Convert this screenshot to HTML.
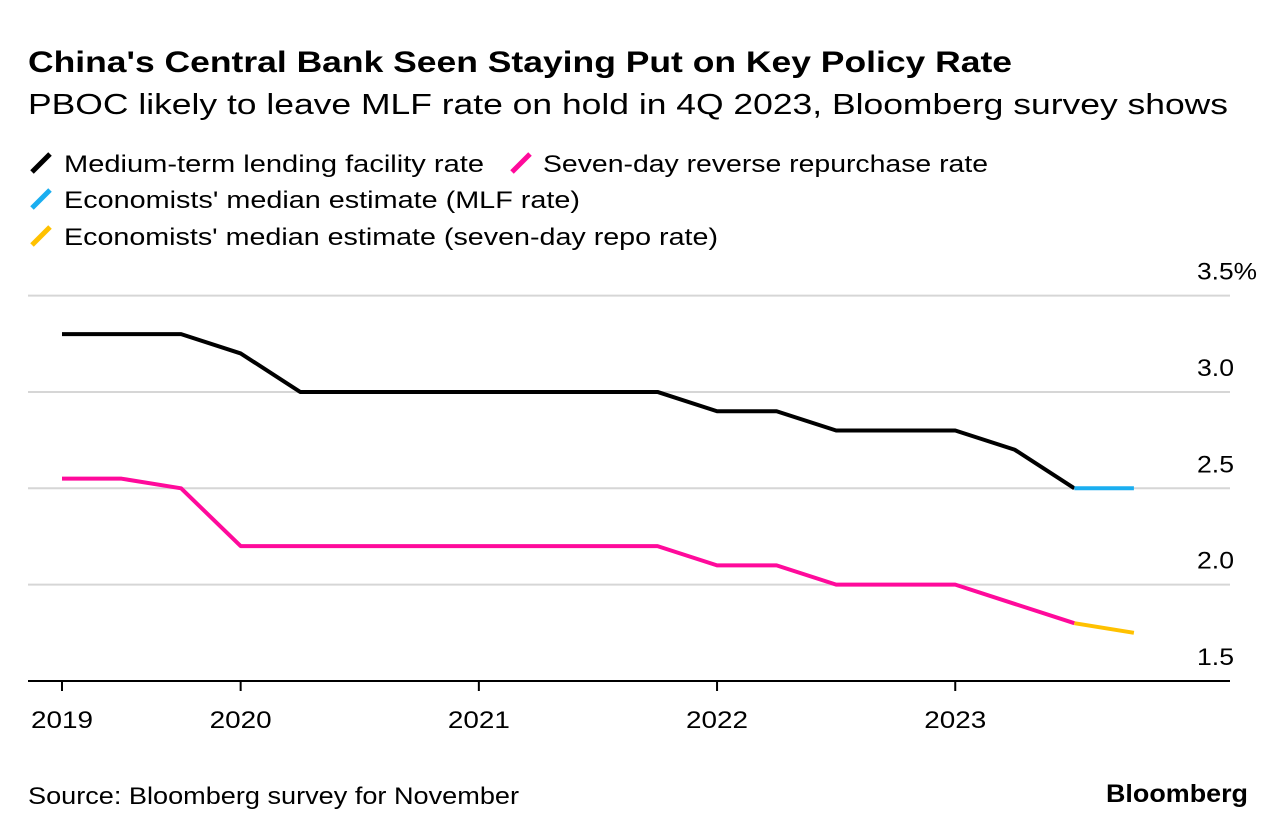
<!DOCTYPE html>
<html><head><meta charset="utf-8"><style>
body{margin:0;background:#fff;width:1286px;height:836px;overflow:hidden;font-family:"Liberation Sans",sans-serif;color:#000}
</style></head><body>
<svg width="1286" height="836" style="position:absolute;left:0;top:0">
<g font-family="Liberation Sans, sans-serif">
<text x="28" y="72" font-size="30" font-weight="bold" textLength="984" lengthAdjust="spacingAndGlyphs">China's Central Bank Seen Staying Put on Key Policy Rate</text>
<text x="28" y="114" font-size="29" textLength="1200" lengthAdjust="spacingAndGlyphs">PBOC likely to leave MLF rate on hold in 4Q 2023, Bloomberg survey shows</text>
<g font-size="24">
<line x1="32" x2="50" y1="172" y2="154" stroke="#000" stroke-width="5"/><text x="64" y="172" textLength="420" lengthAdjust="spacingAndGlyphs">Medium-term lending facility rate</text>
<line x1="512" x2="530" y1="172" y2="154" stroke="#ff0a9b" stroke-width="5"/><text x="543" y="172" textLength="445" lengthAdjust="spacingAndGlyphs">Seven-day reverse repurchase rate</text>
<line x1="32" x2="50" y1="208" y2="190" stroke="#1aaef0" stroke-width="5"/><text x="64" y="208" textLength="516" lengthAdjust="spacingAndGlyphs">Economists' median estimate (MLF rate)</text>
<line x1="32" x2="50" y1="245" y2="227" stroke="#ffc100" stroke-width="5"/><text x="64" y="245" textLength="654" lengthAdjust="spacingAndGlyphs">Economists' median estimate (seven-day repo rate)</text>
</g>
<text x="28" y="804" font-size="24" textLength="491" lengthAdjust="spacingAndGlyphs">Source: Bloomberg survey for November</text>
<text x="1106" y="802" font-size="25" font-weight="bold" textLength="142" lengthAdjust="spacingAndGlyphs">Bloomberg</text>
</g></svg>
<svg id="chart" width="1286" height="836" style="position:absolute;left:0;top:0"></svg>
<script>
const quarters=["2019Q2","2019Q3","2019Q4","2020Q1","2020Q2","2020Q3","2020Q4","2021Q1","2021Q2","2021Q3","2021Q4","2022Q1","2022Q2","2022Q3","2022Q4","2023Q1","2023Q2","2023Q3","2023Q4"];
const mlf=[3.3,3.3,3.3,3.2,3.0,3.0,3.0,3.0,3.0,3.0,3.0,2.9,2.9,2.8,2.8,2.8,2.7,2.5];
const repo=[2.55,2.55,2.5,2.2,2.2,2.2,2.2,2.2,2.2,2.2,2.2,2.1,2.1,2.0,2.0,2.0,1.9,1.8];
const mlfEst=[null,null,null,null,null,null,null,null,null,null,null,null,null,null,null,null,null,2.5,2.5];
const repoEst=[null,null,null,null,null,null,null,null,null,null,null,null,null,null,null,null,null,1.8,1.75];
const yTicks=[1.5,2.0,2.5,3.0,3.5];
const yTickLabels=["1.5","2.0","2.5","3.0","3.5%"];
const xTickIdx=[0,3,7,11,15];
const xTickLabels=["2019","2020","2021","2022","2023"];
const NS="http://www.w3.org/2000/svg";
const svg=document.getElementById('chart');
const x=i=>62+i*59.55;
const y=v=>681-(v-1.5)*192.7;
function mk(t,a){const e=document.createElementNS(NS,t);for(const k in a)e.setAttribute(k,a[k]);svg.appendChild(e);return e;}
yTicks.forEach((v,i)=>{
  if(v>1.5){const g=mk('line',{x1:28,x2:1230,y1:y(v),y2:y(v),stroke:'#d6d6d6','stroke-width':2});
  
  }
  const lbl=yTickLabels[i];
  const t=mk('text',{x:1197,y:y(v)-16,'font-size':24,'font-family':'Liberation Sans, sans-serif',textLength:lbl.length>3?60:37,lengthAdjust:'spacingAndGlyphs'});
  t.textContent=lbl;
  
  
});
const ax=mk('line',{x1:28,x2:1230,y1:681,y2:681,stroke:'#000','stroke-width':2});


xTickIdx.forEach((q,i)=>{
  const tk=mk('line',{x1:x(q),x2:x(q),y1:681,y2:691,stroke:'#000','stroke-width':2});
  
  
  const t=mk('text',{x:x(q)-31,y:728,'font-size':24,'font-family':'Liberation Sans, sans-serif',textLength:62,lengthAdjust:'spacingAndGlyphs'});
  t.textContent=xTickLabels[i];
  
  
});
function line(arr,color,name){
  const pts=[];arr.forEach((v,i)=>{if(v!=null)pts.push(x(i)+','+y(v));});
  const p=mk('polyline',{points:pts.join(' '),fill:'none',stroke:color,'stroke-width':4,'stroke-linejoin':'round'});
  
  
}
line(mlf,'#000','mlf-rate-line');
line(repo,'#ff0a9b','repo-rate-line');
line(mlfEst,'#1aaef0','mlf-estimate-line');
line(repoEst,'#ffc100','repo-estimate-line');
</script>
</body></html>
